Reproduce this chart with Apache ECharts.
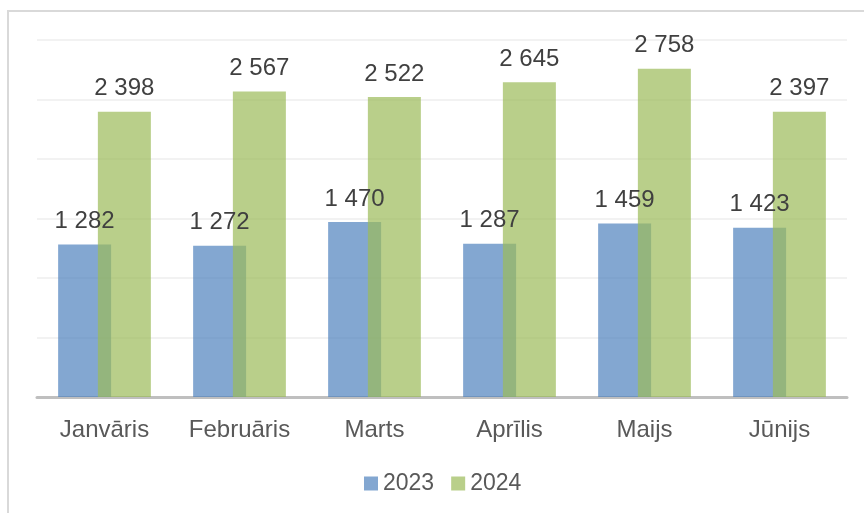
<!DOCTYPE html>
<html>
<head>
<meta charset="utf-8">
<script src="https://cdn.jsdelivr.net/npm/echarts@6/dist/echarts.min.js"></script>
<style>
html, body { margin: 0; padding: 0; background: #fff; }
#chart { width: 864px; height: 513px; }
</style>
</head>
<body>
<div id="chart"></div>
<script>
// mēneši
const categories = ['Janvāris', 'Februāris', 'Marts', 'Aprīlis', 'Maijs', 'Jūnijs']
const values2023 = [1282, 1272, 1470, 1287, 1459, 1423]
const values2024 = [2398, 2567, 2522, 2645, 2758, 2397]

const FONT = "'Liberation Sans', Arial, sans-serif"

// 1282 -> "1 282"
const fmt = (v) => String(v).replace(/\B(?=(\d{3})+(?!\d))/g, ' ')

const chart = echarts.init(document.getElementById('chart'))

const labelStyle = {
	show: true,
	position: 'top',
	distance: 11,
	color: '#404040',
	fontSize: 24,
	fontFamily: FONT,
	formatter: (p) => fmt(p.value),
}

chart.setOption({
	animation: false,
	graphic: [
		{
			type: 'rect',
			shape: { x: 8, y: 11, width: 900, height: 600 },
			style: { fill: 'none', stroke: '#d9d9d9', lineWidth: 2 },
			silent: true,
		},
	],
	grid: { left: 37, right: 17, top: 40, bottom: 116 },
	legend: {
		left: 359,
		top: 467,
		itemWidth: 14,
		itemHeight: 14,
		itemGap: 17,
		icon: 'rect',
		textStyle: { color: '#595959', fontSize: 23, fontFamily: FONT },
		data: ['2023', '2024'],
	},
	xAxis: {
		type: 'category',
		data: categories,
		axisLine: { lineStyle: { color: '#bfbfbf', width: 3 } },
		axisTick: { show: false },
		axisLabel: { color: '#595959', fontSize: 24, fontFamily: FONT, margin: 21 },
	},
	yAxis: {
		type: 'value',
		min: 0,
		max: 3000,
		interval: 500,
		axisLabel: { show: false },
		axisLine: { show: false },
		axisTick: { show: false },
		splitLine: { lineStyle: { color: '#eeeeee', width: 1.5 } },
	},
	series: [
		{
			name: '2023',
			type: 'bar',
			data: values2023,
			barWidth: 53,
			barGap: '-25%',
			itemStyle: { color: 'rgba(79,129,189,0.7)' },
			label: labelStyle,
		},
		{
			name: '2024',
			type: 'bar',
			data: values2024,
			barWidth: 53,
			barGap: '-25%',
			itemStyle: { color: 'rgba(155,187,89,0.7)' },
			label: labelStyle,
		},
	],
})
</script>
</body>
</html>
